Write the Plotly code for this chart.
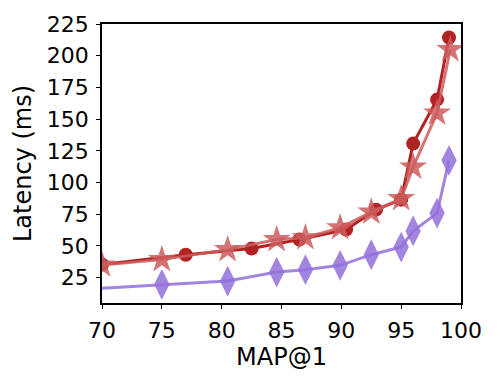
import plotly.graph_objects as go

# MAP@1 vs latency for three methods
circ_x = [70.0, 77.0, 82.5, 86.5, 90.4, 92.9, 95.0, 96.0, 98.0, 99.0]
circ_y = [35.3, 43.1, 47.9, 55.0, 62.9, 78.6, 86.5, 130.7, 165.4, 214.3]

star_x = [70.0, 75.0, 80.5, 84.6, 87.0, 89.9, 92.5, 95.0, 96.0, 98.0, 99.1]
star_y = [35.0, 39.2, 47.1, 55.0, 56.5, 64.4, 76.7, 87.3, 112.2, 154.8, 204.8]

dia_x = [65.0, 75.0, 80.5, 84.6, 87.0, 89.9, 92.5, 95.0, 96.0, 98.0, 99.0]
dia_y = [14.0, 19.7, 22.3, 29.4, 31.3, 34.7, 43.1, 49.1, 61.8, 75.9, 117.5]

fig = go.Figure()

fig.add_trace(go.Scatter(
    x=circ_x, y=circ_y, mode="lines+markers",
    line=dict(color="#B22222", width=3),
    marker=dict(symbol="circle", size=14, color="#B22222"),
))
fig.add_trace(go.Scatter(
    x=star_x, y=star_y, mode="lines+markers",
    line=dict(color="rgba(205,92,92,0.85)", width=3),
    marker=dict(symbol="star", size=21, color="rgba(205,92,92,0.85)", line=dict(width=0)),
))
fig.add_trace(go.Scatter(
    x=dia_x, y=dia_y, mode="lines+markers",
    line=dict(color="rgba(147,112,219,0.85)", width=3),
    marker=dict(symbol="diamond-tall", size=22, color="rgba(147,112,219,0.85)", line=dict(width=0)),
))

axis_common = dict(
    showgrid=False, zeroline=False, showline=True, mirror=True,
    linecolor="black", linewidth=1.5, ticks="outside", ticklen=4,
    tickcolor="black", tickwidth=1.2, automargin=False, ticklabelstandoff=3,
    tickfont=dict(size=22, color="black"),
)

# the page body has an 8px margin, so the figure is a bit smaller than the window
fig.update_layout(
    width=492, height=372,
    margin=dict(l=94, r=39, t=16, b=77),
    plot_bgcolor="white", paper_bgcolor="white",
    showlegend=False,
    font=dict(family="DejaVu Sans", color="black"),
    xaxis=dict(range=[70, 100], tickvals=[70, 75, 80, 85, 90, 95, 100],
               title=dict(text="MAP@1", font=dict(size=24), standoff=3), **axis_common),
    yaxis=dict(range=[5, 225], tickvals=[25, 50, 75, 100, 125, 150, 175, 200, 225],
               title=dict(text="Latency (ms)", font=dict(size=24), standoff=8), **axis_common),
)

fig.write_html("out.html")
